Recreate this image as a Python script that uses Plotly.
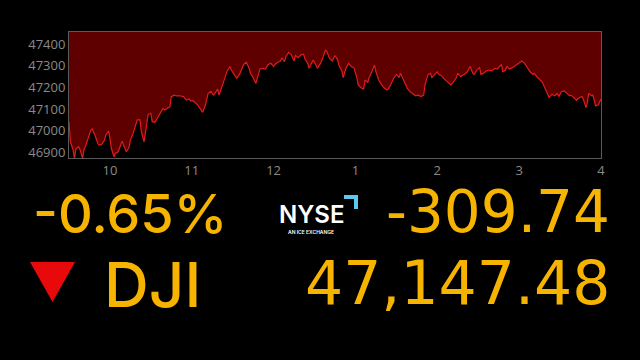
import plotly.graph_objects as go

# ---- data ----
times = ["09:30","09:31","09:33","09:34","09:35","09:37","09:38","09:40","09:41","09:42",
         "09:44","09:46","09:47","09:49","09:51","09:52","09:54","09:56","09:57","09:59",
         "10:00","10:01","10:03","10:04","10:06","10:07","10:09","10:10","10:12","10:14",
         "10:15","10:17","10:18","10:20","10:22","10:23","10:25","10:27","10:28","10:30",
         "10:31","10:33","10:35","10:37","10:39","10:40","10:42","10:44","10:45","10:47",
         "10:49","10:51","10:54","10:56","10:58","10:59","11:01","11:04","11:06","11:08",
         "11:10","11:12","11:14","11:16","11:17","11:19","11:20","11:22","11:24","11:26",
         "11:28","11:29","11:31","11:33","11:35","11:37","11:38","11:40","11:42","11:43",
         "11:45","11:47","11:49","11:50","11:52","11:54","11:56","11:58","12:00","12:01",
         "12:03","12:05","12:06","12:08","12:09","12:11","12:13","12:15","12:16","12:18",
         "12:20","12:22","12:23","12:25","12:26","12:28","12:29","12:31","12:32","12:34",
         "12:36","12:38","12:39","12:41","12:43","12:45","12:47","12:48","12:50","12:51",
         "12:53","12:55","12:57","12:59","13:01","13:02","13:04","13:06","13:07","13:09",
         "13:10","13:12","13:14","13:15","13:17","13:19","13:21","13:23","13:24","13:26",
         "13:28","13:30","13:32","13:33","13:35","13:37","13:38","13:40","13:42","13:44",
         "13:46","13:48","13:50","13:51","13:53","13:55","13:56","13:58","14:00","14:01",
         "14:03","14:05","14:07","14:09","14:10","14:12","14:14","14:15","14:17","14:18",
         "14:20","14:22","14:24","14:26","14:27","14:29","14:31","14:32","14:34","14:36",
         "14:38","14:40","14:42","14:44","14:45","14:47","14:48","14:50","14:51","14:53",
         "14:55","14:57","14:59","15:01","15:02","15:04","15:06","15:08","15:10","15:11",
         "15:13","15:15","15:17","15:19","15:21","15:22","15:24","15:26","15:28","15:29",
         "15:31","15:33","15:35","15:37","15:38","15:40","15:42","15:44","15:46","15:47",
         "15:49","15:50","15:51","15:53","15:54","15:55","15:56","15:58","15:59","16:00"]
dji = [47042,46949,46911,46872,46915,46926,46915,46872,46915,46926,
       46965,47003,47008,46980,46942,46934,46937,46957,46980,46999,
       46965,46919,46880,46895,46903,46922,46952,46934,46903,46922,
       46957,46988,47011,47050,47050,46996,46949,47027,47076,47081,
       47042,47039,47060,47085,47104,47096,47104,47111,47158,47165,
       47161,47162,47158,47142,47147,47138,47138,47122,47104,47085,
       47119,47173,47181,47165,47173,47193,47165,47204,47243,47277,
       47297,47281,47261,47243,47261,47289,47307,47317,47289,47266,
       47246,47219,47258,47286,47289,47286,47307,47312,47297,47307,
       47317,47323,47338,47320,47343,47363,47351,47323,47348,47338,
       47351,47354,47332,47312,47289,47317,47327,47304,47289,47307,
       47335,47374,47366,47335,47323,47348,47327,47301,47277,47246,
       47289,47312,47297,47289,47246,47212,47199,47193,47235,47224,
       47246,47273,47304,47273,47235,47215,47199,47189,47193,47215,
       47243,47261,47246,47266,47235,47212,47196,47181,47173,47162,
       47165,47158,47165,47212,47258,47266,47246,47261,47273,47261,
       47255,47240,47230,47219,47212,47227,47246,47266,47250,47255,
       47261,47273,47297,47266,47261,47281,47292,47261,47266,47277,
       47281,47277,47289,47286,47292,47307,47273,47281,47297,47286,
       47292,47301,47307,47317,47323,47312,47292,47273,47261,47266,
       47250,47235,47224,47196,47165,47153,47169,47162,47173,47158,
       47181,47184,47173,47162,47165,47153,47142,47153,47158,47147,
       47107,47131,47173,47162,47165,47142,47116,47119,47135,47147]

tick_times = ["10:00","11:00","12:00","13:00","14:00","15:00","16:00"]
tick_labels = ["10","11","12","1","2","3","4"]
y_ticks = [46900,47000,47100,47200,47300,47400]

pct_change = "-0.65%"
pt_change = "-309.74"
index_name = "DJI"
last_value = "47,147.48"

DAY = "2025-11-20 "
x = [DAY + t for t in times]

W, H = 640, 360
L, R, T, B = 69, 601, 32, 158  # plot area in pixels


def px(v):
    return (v - L) / (R - L)


def py(v):
    return (B - v) / (B - T)


fig = go.Figure()
fig.add_trace(go.Scatter(
    x=x, y=dji, mode="lines",
    line=dict(color="#e21a1a", width=1.2),
    fill="tozeroy", fillcolor="#000000",
    hoverinfo="skip", showlegend=False,
))

AMBER = "#f6b400"
F1 = "Inter"
F2 = "DejaVu Sans"

annotations = [
    dict(text=pct_change, x=px(31), y=py(213), xanchor="left", yanchor="middle",
         font=dict(size=54, color=AMBER, family=F1, weight=500)),
    dict(text=pt_change, x=px(612), y=py(212), xanchor="right", yanchor="middle",
         font=dict(size=58, color=AMBER, family=F2)),
    dict(text=index_name, x=px(102), y=py(284), xanchor="left", yanchor="middle",
         font=dict(size=62, color=AMBER, family=F1, weight=500)),
    dict(text=last_value, x=px(612), y=py(283), xanchor="right", yanchor="middle",
         font=dict(size=60, color=AMBER, family=F2)),
    dict(text="NYSE", x=px(311), y=py(214), xanchor="center", yanchor="middle",
         font=dict(size=24, color="#ffffff", family="Inter", weight=600)),
    dict(text="AN ICE EXCHANGE", x=px(311), y=py(232), xanchor="center", yanchor="middle",
         font=dict(size=5, color="#ffffff", family="Inter", weight=600)),
]
for a in annotations:
    a.update(xref="paper", yref="paper", showarrow=False)

shapes = [
    # red down triangle
    dict(type="path", xref="paper", yref="paper",
         path=f"M {px(30)} {py(262)} L {px(75)} {py(262)} L {px(52.5)} {py(302)} Z",
         fillcolor="#e8090b", line=dict(width=0)),
    # NYSE blue corner bracket
    dict(type="path", xref="paper", yref="paper",
         path=(f"M {px(344)} {py(195)} L {px(358)} {py(195)} L {px(358)} {py(209)} "
               f"L {px(354)} {py(209)} L {px(354)} {py(199)} L {px(344)} {py(199)} Z"),
         fillcolor="#5cc8ee", line=dict(width=0)),
]

fig.update_layout(
    width=W, height=H,
    margin=dict(l=L, r=W - R, t=T, b=H - B),
    paper_bgcolor="#000000",
    plot_bgcolor="#5e0000",
    annotations=annotations,
    shapes=shapes,
    font=dict(family="Open Sans", color="#8a8a8a", size=13),
)
fig.update_xaxes(
    type="date",
    range=[DAY + "09:30", DAY + "16:00"],
    tickvals=[DAY + t for t in tick_times], ticktext=tick_labels,
    showgrid=False, zeroline=False,
    showline=True, mirror=True, linecolor="#5a5a5a", linewidth=1,
    ticks="", tickfont=dict(size=13, color="#8a8a8a"),
)
fig.update_yaxes(
    range=[46874, 47457],
    tickvals=y_ticks,
    tickformat="d",
    showgrid=False, zeroline=False,
    showline=True, mirror=True, linecolor="#5a5a5a", linewidth=1,
    ticks="", tickfont=dict(size=13, color="#8a8a8a"),
)

fig.write_html("out.html")
